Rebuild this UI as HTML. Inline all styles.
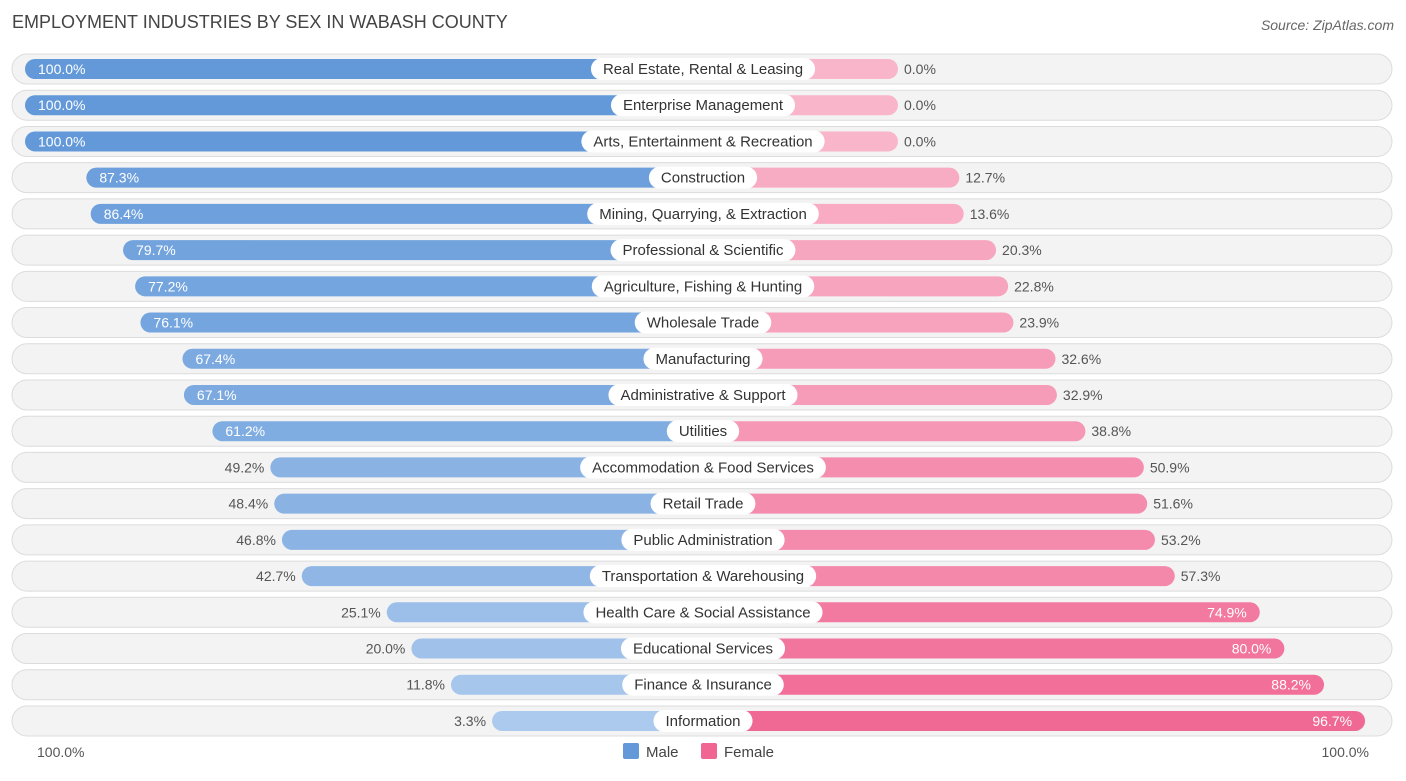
<!DOCTYPE html>
<html><head><meta charset="utf-8"><style>
body{margin:0;background:#fff;font-family:"Liberation Sans",Arial,sans-serif;}
svg text{font-family:"Liberation Sans",Arial,sans-serif;}
</style></head><body>
<svg id="chart" width="1406" height="776" xmlns="http://www.w3.org/2000/svg">
<text x="12" y="28" font-size="18" fill="#444">EMPLOYMENT INDUSTRIES BY SEX IN WABASH COUNTY</text>
<text x="1394" y="30" font-size="14" fill="#666" font-style="italic" text-anchor="end">Source: ZipAtlas.com</text>
<g id="rows"></g>
<text x="37" y="757" font-size="14" fill="#555">100.0%</text>
<text x="1369" y="757" font-size="14" fill="#555" text-anchor="end">100.0%</text>
<g>
<rect x="623" y="743" width="16" height="16" rx="2" fill="#6399d9"/>
<text x="646" y="757" font-size="15" fill="#444">Male</text>
<rect x="701" y="743" width="16" height="16" rx="2" fill="#f06592"/>
<text x="724" y="757" font-size="15" fill="#444">Female</text>
</g>
</svg>
<script>
const categories=["Real Estate, Rental & Leasing","Enterprise Management","Arts, Entertainment & Recreation","Construction","Mining, Quarrying, & Extraction","Professional & Scientific","Agriculture, Fishing & Hunting","Wholesale Trade","Manufacturing","Administrative & Support","Utilities","Accommodation & Food Services","Retail Trade","Public Administration","Transportation & Warehousing","Health Care & Social Assistance","Educational Services","Finance & Insurance","Information"];
const maleValues=[100,100,100,87.3,86.4,79.7,77.2,76.1,67.4,67.1,61.2,49.2,48.4,46.8,42.7,25.1,20.0,11.8,3.3];
const femaleValues=[0,0,0,12.7,13.6,20.3,22.8,23.9,32.6,32.9,38.8,50.9,51.6,53.2,57.3,74.9,80.0,88.2,96.7];
const NS="http://www.w3.org/2000/svg";
const cx=703, off=195, sc=4.83, y0=69, dy=36.22;
function w(v){return off+v*sc;}
function mix(a,b,t){return "rgb("+a.map((x,i)=>Math.round(x+(b[i]-x)*t)).join(",")+")";}
const g=document.getElementById('rows');
function el(tag,attrs,parent){const e=document.createElementNS(NS,tag);for(const k in attrs)e.setAttribute(k,attrs[k]);parent.appendChild(e);return e;}
categories.forEach((c,i)=>{
  const y=y0+i*dy;
  const row=el('g',{},g);
  
  
  const bg=el('rect',{x:12,y:y-15,width:1380,height:30,rx:15,fill:"#f3f3f3",stroke:"#dcdcdc","stroke-width":1},row);
  
  
  const m=maleValues[i], f=femaleValues[i];
  const mw=w(m), fw=w(f);
  const mb=el('rect',{x:cx-mw,y:y-10,width:mw,height:20,rx:10,fill:mix([175,204,238],[99,153,217],m/100)},row);
  
  
  const fb=el('rect',{x:cx,y:y-10,width:fw,height:20,rx:10,fill:mix([249,182,203],[240,101,146],f/100)},row);
  
  
  const mt=el('text',{y:y+5,"font-size":14},row);
  if(m>=55){mt.setAttribute('x',cx-mw+13);mt.setAttribute('fill','#fff');}
  else{mt.setAttribute('x',cx-mw-6);mt.setAttribute('fill','#555');mt.setAttribute('text-anchor','end');}
  mt.textContent=m.toFixed(1)+"%";
  
  
  const ft=el('text',{y:y+5,"font-size":14},row);
  if(f>=70){ft.setAttribute('x',cx+fw-13);ft.setAttribute('fill','#fff');ft.setAttribute('text-anchor','end');}
  else{ft.setAttribute('x',cx+fw+6);ft.setAttribute('fill','#555');}
  ft.textContent=f.toFixed(1)+"%";
  
  
  const lt=el('text',{x:cx,y:y+5,"font-size":15,fill:"#333","text-anchor":"middle"},row);
  lt.textContent=c;
  
  
  const tw=lt.getComputedTextLength()+24;
  const pill=el('rect',{x:cx-tw/2,y:y-11,width:tw,height:22,rx:11,fill:"#fff"},row);
  
  
  row.insertBefore(pill,lt);
});
</script>
</body></html>
